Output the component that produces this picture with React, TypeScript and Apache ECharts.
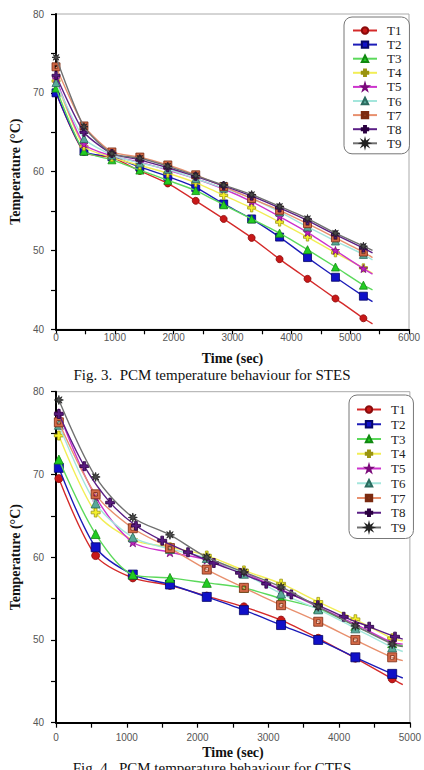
import React, { useEffect, useRef } from "react";
import * as echarts from "echarts";

const seriesNames = ["T1", "T2", "T3", "T4", "T5", "T6", "T7", "T8", "T9"];

// Fig. 3 — STES, sampled every ~475 s, lines run on to stesTailTime
const stesTime = [0, 475, 950, 1425, 1900, 2375, 2850, 3325, 3800, 4275, 4750, 5225];
const stesTailTime = 5380;
const stesT1 = [70.0, 62.5, 61.8, 60.1, 58.5, 56.3, 54.0, 51.6, 48.9, 46.4, 43.9, 41.4];
const stesT2 = [70.0, 62.6, 61.9, 60.6, 59.4, 58.0, 55.9, 54.0, 51.7, 49.1, 46.6, 44.2];
const stesT3 = [70.6, 62.6, 61.5, 60.2, 58.9, 57.6, 55.8, 54.0, 52.2, 50.1, 47.9, 45.6];
const stesT4 = [71.5, 63.2, 61.8, 60.8, 59.8, 58.6, 57.0, 55.4, 53.6, 51.7, 49.7, 47.8];
const stesT5 = [71.8, 63.5, 62.0, 61.2, 60.2, 59.1, 57.8, 56.2, 54.3, 52.3, 50.0, 47.7];
const stesT6 = [71.3, 64.2, 62.1, 61.1, 60.3, 59.1, 57.9, 56.6, 54.9, 53.0, 51.2, 49.5];
const stesT7 = [73.3, 65.8, 62.5, 61.85, 60.85, 59.6, 58.1, 56.6, 55.1, 53.4, 51.6, 49.8];
const stesT8 = [72.2, 65.0, 62.3, 61.5, 60.5, 59.4, 58.2, 56.9, 55.4, 53.8, 52.0, 50.3];
const stesT9 = [74.5, 65.7, 62.3, 61.7, 60.7, 59.5, 58.3, 57.1, 55.6, 54.05, 52.2, 50.55];
const stesTail = [40.7, 43.5, 45.0, 47.1, 47.0, 48.8, 49.1, 49.7, 50.0];

// Fig. 4 — CTES, sampled every ~525 s (T8 every ~365 s)
const ctesTime = [40, 560, 1085, 1610, 2130, 2655, 3180, 3705, 4230, 4750];
const ctesT8Time = [40, 400, 765, 1130, 1500, 1865, 2230, 2600, 2970, 3325, 3700, 4065, 4425, 4790];
const ctesTailTime = 4900;
const ctesT1 = [69.5, 60.2, 57.5, 56.6, 55.3, 54.0, 52.4, 50.2, 47.8, 45.3];
const ctesT2 = [70.8, 61.2, 57.9, 56.7, 55.2, 53.6, 51.8, 50.0, 47.9, 45.9];
const ctesT3 = [71.8, 62.8, 57.9, 57.5, 56.9, 56.3, 55.0, 53.8, 51.7, 49.6];
const ctesT4 = [74.7, 65.4, 62.1, 61.2, 60.2, 58.4, 56.8, 54.6, 52.5, 50.2];
const ctesT5 = [77.4, 67.3, 61.8, 60.6, 59.7, 58.1, 56.1, 54.0, 51.9, 49.7];
const ctesT6 = [76.0, 66.5, 62.4, 61.0, 59.9, 58.0, 55.6, 53.7, 51.4, 49.1];
const ctesT7 = [76.3, 67.6, 63.5, 61.1, 58.5, 56.3, 54.2, 52.2, 50.0, 47.9];
const ctesT8 = [77.3, 71.0, 66.6, 63.8, 62.0, 60.6, 59.3, 58.1, 56.8, 55.5, 54.2, 52.8, 51.6, 50.4];
const ctesT9 = [79.0, 69.7, 64.8, 62.7, 60.0, 58.2, 56.4, 54.0, 51.7, 49.5];
const ctesTail = [44.6, 45.4, 49.3, 49.9, 49.5, 48.6, 47.5, 50.1, 49.2];

const xTicks = [0, 1000, 2000, 3000, 4000, 5000, 6000];
const yTicks = [40, 50, 60, 70, 80];

// marker shapes
const plusPath = "path://M35,0H65V35H100V65H65V100H35V65H0V35H35Z";
const starPath = "path://M50,0L61,35H98L68,57L79,91L50,70L21,91L32,57L2,35H39Z";
const framedSquarePath = "path://M0,0H100V100H0Z M30,30V70H70V30Z";
function burstPath(points: number, outer: number, inner: number) {
  let d = "";
  for (let i = 0; i < points * 2; i++) {
    const r = i % 2 === 0 ? outer : inner;
    const a = (Math.PI * i) / points - Math.PI / 2;
    const x = (50 + r * Math.cos(a)).toFixed(1);
    const y = (50 + r * Math.sin(a)).toFixed(1);
    d += (i === 0 ? "M" : "L") + x + "," + y;
  }
  return "path://" + d + "Z";
}
const burst = burstPath(8, 50, 20);

const looks = [
  { line: "#d42a2a", fill: "#c81818", border: "#8a0a0a", symbol: "circle" },
  { line: "#1c1cb8", fill: "#1010c8", border: "#05056a", symbol: "rect" },
  { line: "#5bd95b", fill: "#22cc22", border: "#118811", symbol: "triangle" },
  { line: "#f2ee55", fill: "#f5f02a", border: "#9a9410", symbol: plusPath },
  { line: "#cc33cc", fill: "#c020c0", border: "#7a0a7a", symbol: starPath },
  { line: "#a4e6dc", fill: "#58a898", border: "#2a6a5e", symbol: "triangle" },
  { line: "#e8906e", fill: "#d46a48", border: "#7a2a10", symbol: framedSquarePath },
  { line: "#5b1f86", fill: "#581a80", border: "#2a0040", symbol: plusPath },
  { line: "#707070", fill: "#4a4a4a", border: "#222222", symbol: burst },
];

const serif = "'Liberation Serif', 'Times New Roman', serif";
const sans = "'Liberation Sans', Arial, sans-serif";

function buildSeries(
  times: number[][],
  values: number[][],
  tailTime: number,
  tails: number[],
  axisIndex: number,
  size: number,
  smooth: number
) {
  return values.map((vals, i) => {
    const look = looks[i];
    const data: any[] = vals.map((v, k) => [times[i][k], v]);
    data.push({ value: [tailTime, tails[i]], symbol: "none" });
    return {
      type: "line",
      name: seriesNames[i],
      xAxisIndex: axisIndex,
      yAxisIndex: axisIndex,
      data,
      smooth,
      symbol: look.symbol,
      symbolSize: look.symbol === "circle" ? size - 1 : size,
      showAllSymbol: true,
      lineStyle: { color: look.line, width: 1.4 },
      itemStyle: { color: look.fill, borderColor: look.border, borderWidth: 0.8 },
      z: 2 + i,
    };
  });
}

function axisPair(gridIndex: number, xMax: number, labelMarginX: number, nameGapX: number, nameGapY: number) {
  const labelStyle = { color: "#555", fontFamily: sans, fontSize: 10 };
  const titleStyle = { color: "#111", fontFamily: serif, fontWeight: "bold" as const, fontSize: 14 };
  return {
    x: {
      type: "value",
      gridIndex,
      min: 0,
      max: xMax,
      interval: 1000,
      name: "Time (sec)",
      nameLocation: "middle",
      nameGap: nameGapX,
      nameTextStyle: titleStyle,
      axisLine: { show: true, lineStyle: { color: "#000", width: 2 } },
      axisTick: { show: true, length: 5, lineStyle: { color: "#000", width: 1.2 } },
      minorTick: { show: true, splitNumber: 2, length: 5, lineStyle: { color: "#000", width: 1.2 } },
      splitLine: { show: false },
      axisLabel: { ...labelStyle, margin: labelMarginX, formatter: (v: number) => (xTicks.includes(v) ? String(v) : "") },
    },
    y: {
      type: "value",
      gridIndex,
      min: 40,
      max: 80,
      interval: 10,
      name: "Temperature (°C)",
      nameLocation: "middle",
      nameGap: nameGapY,
      nameTextStyle: titleStyle,
      axisLine: { show: true, lineStyle: { color: "#000", width: 2 } },
      axisTick: { show: true, length: 5, lineStyle: { color: "#000", width: 1.2 } },
      minorTick: { show: true, splitNumber: 2, length: 5, lineStyle: { color: "#000", width: 1.2 } },
      splitLine: { show: false },
      axisLabel: { ...labelStyle, margin: 12, formatter: (v: number) => (yTicks.includes(v) ? String(v) : "") },
    },
  };
}

function legendAt(left: number, top: number, gap: number, padding: number[]) {
  return {
    orient: "vertical",
    left,
    top,
    data: seriesNames,
    itemWidth: 24,
    itemHeight: 8,
    itemGap: gap,
    padding,
    borderColor: "#777",
    borderWidth: 1,
    borderRadius: 8,
    backgroundColor: "#fff",
    selectedMode: false,
    textStyle: { fontFamily: serif, fontSize: 13, lineHeight: 8, color: "#222", padding: [0, 0, 0, 5] },
  };
}

export default function App() {
  const ref = useRef<HTMLDivElement>(null);

  useEffect(() => {
    if (!ref.current) return;
    const chart = echarts.init(ref.current, undefined, { renderer: "svg" });

    const a1 = axisPair(0, 6000, 3, 22, 27);
    const a2 = axisPair(1, 5000, 10, 23, 27);

    const stesSeries = buildSeries(
      seriesNames.map(() => stesTime),
      [stesT1, stesT2, stesT3, stesT4, stesT5, stesT6, stesT7, stesT8, stesT9],
      stesTailTime,
      stesTail,
      0,
      8,
      0.2
    );
    const ctesSeries = buildSeries(
      seriesNames.map((n) => (n === "T8" ? ctesT8Time : ctesTime)),
      [ctesT1, ctesT2, ctesT3, ctesT4, ctesT5, ctesT6, ctesT7, ctesT8, ctesT9],
      ctesTailTime,
      ctesTail,
      1,
      9,
      0.3
    );

    chart.setOption({
      animation: false,
      backgroundColor: "#fff",
      grid: [
        { left: 45.7, top: 14, width: 363.3, height: 315.3, show: true, borderColor: "#aaa", borderWidth: 1, backgroundColor: "transparent" },
        { left: 40, top: 391.7, width: 376, height: 331, show: true, borderColor: "#aaa", borderWidth: 1, backgroundColor: "transparent" },
      ],
      xAxis: [a1.x, a2.x],
      yAxis: [a1.y, a2.y],
      legend: [
        legendAt(344, 17, 1.1, [7, 8, 4, 8]),
        legendAt(349, 395, 1.75, [8, 8, 4.5, 7]),
      ],
      series: [...stesSeries, ...ctesSeries],
      graphic: [
        {
          type: "text",
          left: "center",
          top: 367,
          style: { text: "Fig. 3.  PCM temperature behaviour for STES", font: `15px ${serif}`, fill: "#111" },
        },
        {
          type: "text",
          left: "center",
          top: 760,
          style: { text: "Fig. 4.  PCM temperature behaviour for CTES", font: `15px ${serif}`, fill: "#111" },
        },
      ],
    });

    return () => chart.dispose();
  }, []);

  return (
    <div
      ref={ref}
      style={{ position: "absolute", left: 0, top: 0, width: 424, height: 770, background: "#fff" }}
    />
  );
}
